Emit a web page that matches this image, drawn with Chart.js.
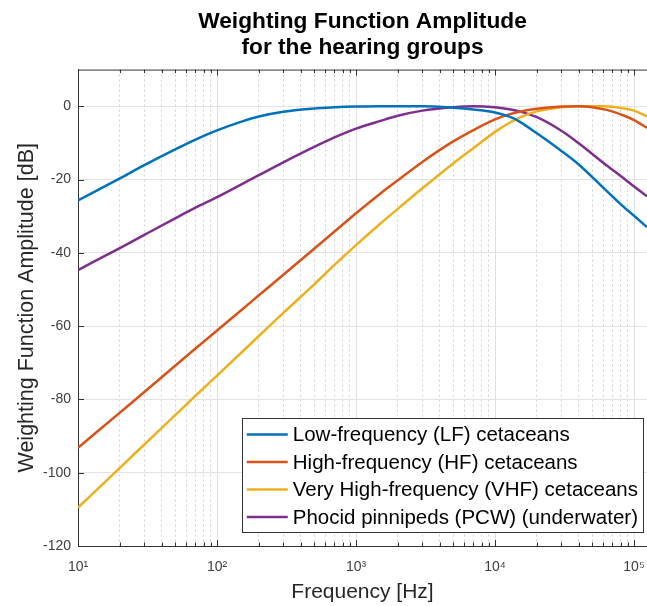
<!DOCTYPE html>
<html>
<head>
<meta charset="utf-8">
<script src="https://cdn.jsdelivr.net/npm/chart.js@4.4.1/dist/chart.umd.min.js"></script>
<style>
  html, body { margin: 0; padding: 0; background: #fff; }
  #wrap { width: 647px; height: 606px; }
</style>
</head>
<body>
<div id="wrap"><canvas id="chart"></canvas></div>
<script>
/* valores */
const freqHz = [10, 20, 30, 50, 70, 100, 150, 200, 300, 500, 700, 1000, 1500, 2000, 3000, 5000, 7000, 10000, 13000, 15000, 20000, 30000, 40000, 60000, 85000, 100000, 124000];
const lfValues = [-25.7, -19.7, -16.1, -11.8, -9.1, -6.6, -4.2, -2.8, -1.5, -0.6, -0.3, -0.1, 0, 0, 0, -0.4, -0.9, -1.7, -3.0, -4.2, -7.4, -12.2, -15.9, -22.2, -27.6, -29.9, -33.0];
const hfValues = [-93.2, -83.6, -78.0, -70.8, -66.1, -61.2, -55.6, -51.6, -46.0, -38.9, -34.2, -29.2, -23.8, -20.2, -15.2, -9.6, -6.5, -3.6, -2.1, -1.5, -0.7, -0.1, 0, -0.8, -2.6, -3.8, -5.9];
const vhfValues = [-109.5, -98.7, -92.3, -84.3, -79.0, -73.5, -67.2, -62.7, -56.4, -48.6, -43.3, -37.9, -32.0, -28.0, -22.4, -15.6, -11.4, -7.0, -4.3, -3.1, -1.4, -0.3, 0, 0, -0.6, -1.2, -2.8];
const pcwValues = [-44.7, -38.7, -35.1, -30.6, -27.7, -24.8, -21.3, -18.8, -15.3, -11.1, -8.5, -6.1, -4.0, -2.6, -1.2, -0.3, 0, -0.3, -0.9, -1.4, -3.0, -6.7, -10.1, -15.4, -19.8, -21.9, -24.6];

const seriesNames = [
    'Low-frequency (LF) cetaceans',
    'High-frequency (HF) cetaceans',
    'Very High-frequency (VHF) cetaceans',
    'Phocid pinnipeds (PCW) (underwater)'
];
const seriesColors = ['#0072BD', '#D95319', '#EDB120', '#7E2F8E'];

/* ticks */
const xTickValues = [10, 20, 30, 40, 50, 60, 70, 80, 90,
    100, 200, 300, 400, 500, 600, 700, 800, 900,
    1000, 2000, 3000, 4000, 5000, 6000, 7000, 8000, 9000,
    10000, 20000, 30000, 40000, 50000, 60000, 70000, 80000, 90000,
    100000];
const xDecadeLabels = ['10¹', '10²', '10³', '10⁴', '10⁵'];
const yTickValues = [-120, -100, -80, -60, -40, -20, 0];

const FONT = '"Liberation Sans", Arial, Helvetica, sans-serif';
Chart.defaults.font.family = FONT;

function esDecada(v) {
    const l = Math.log10(v);
    return Math.abs(l - Math.round(l)) < 1e-9;
}

function puntos(valores) {
    return freqHz.map((f, i) => ({ x: f, y: valores[i] }));
}

/* ejes estilo matlab: borde de arriba, ticks hacia adentro y leyenda en caja */
const matlabPlugin = {
    id: 'matlab',
    beforeDatasetsDraw(chart) {
        const { ctx, chartArea, scales } = chart;
        ctx.save();
        ctx.strokeStyle = '#333';
        ctx.lineWidth = 1;
        ctx.beginPath();
        ctx.moveTo(chartArea.left, chartArea.top + 0.5);
        ctx.lineTo(chartArea.right, chartArea.top + 0.5);
        xTickValues.forEach(v => {
            const x = Math.round(scales.x.getPixelForValue(v)) + 0.5;
            const len = esDecada(v) ? 6 : 3.5;
            ctx.moveTo(x, chartArea.top);
            ctx.lineTo(x, chartArea.top + len);
            ctx.moveTo(x, chartArea.bottom);
            ctx.lineTo(x, chartArea.bottom - len);
        });
        yTickValues.forEach(v => {
            const y = Math.round(scales.y.getPixelForValue(v)) + 0.5;
            ctx.moveTo(chartArea.left, y);
            ctx.lineTo(chartArea.left + 6, y);
        });
        ctx.stroke();
        ctx.restore();
    },
    afterDatasetsDraw(chart) {
        const { ctx, chartArea } = chart;
        const sets = chart.data.datasets;
        ctx.save();
        ctx.font = '20.5px ' + FONT;
        let maxW = 0;
        sets.forEach(ds => { maxW = Math.max(maxW, ctx.measureText(ds.label).width); });
        const rowH = 27.5;
        const w = 5 + 41 + 5 + maxW + 5;
        const h = sets.length * rowH + 4;
        const right = chartArea.right - 4;
        const bottom = chartArea.bottom - 14;
        const left = right - w;
        const top = bottom - h;
        ctx.fillStyle = '#fff';
        ctx.fillRect(left, top, w, h);
        ctx.strokeStyle = '#333';
        ctx.lineWidth = 1;
        ctx.strokeRect(Math.round(left) + 0.5, Math.round(top) + 0.5, Math.round(w), Math.round(h));
        ctx.textBaseline = 'middle';
        ctx.textAlign = 'left';
        sets.forEach((ds, i) => {
            const y = top + 16.5 + i * rowH;
            ctx.strokeStyle = ds.borderColor;
            ctx.lineWidth = ds.borderWidth;
            ctx.beginPath();
            ctx.moveTo(left + 5, y);
            ctx.lineTo(left + 46, y);
            ctx.stroke();
            ctx.fillStyle = '#000';
            ctx.fillText(ds.label, left + 51, y + 1);
        });
        ctx.restore();
    }
};

const datasets = [lfValues, hfValues, vhfValues, pcwValues].map((vals, i) => ({
    label: seriesNames[i],
    data: puntos(vals),
    borderColor: seriesColors[i],
    backgroundColor: seriesColors[i],
    borderWidth: 2.5,
    pointRadius: 0,
    fill: false,
    cubicInterpolationMode: 'monotone'
}));

const chart = new Chart(document.getElementById('chart'), {
    type: 'line',
    data: { datasets: datasets },
    plugins: [matlabPlugin],
    options: {
        responsive: true,
        maintainAspectRatio: false,
        animation: false,
        layout: { padding: 0 },
        plugins: {
            legend: { display: false },
            tooltip: { enabled: false },
            title: {
                display: true,
                fullSize: false,
                text: ['Weighting Function Amplitude', 'for the hearing groups'],
                color: '#000',
                font: { size: 22.7, weight: 'bold', lineHeight: 1.18 },
                padding: { top: 8, bottom: 8 }
            }
        },
        scales: {
            x: {
                type: 'logarithmic',
                min: 10,
                max: 124000,
                afterBuildTicks: (s) => { s.ticks = xTickValues.map(v => ({ value: v })); },
                afterFit: (s) => { s.height = 60; s.paddingLeft = 0; s.paddingRight = 0; },
                ticks: {
                    autoSkip: false,
                    maxRotation: 0,
                    padding: 13,
                    color: '#404040',
                    font: { size: 14 },
                    callback: (v) => esDecada(v) ? xDecadeLabels[Math.round(Math.log10(v)) - 1] : ''
                },
                grid: {
                    drawTicks: false,
                    color: (c) => (c.tick && esDecada(c.tick.value)) ? '#e0e0e0' : '#d2d2d2'
                },
                border: {
                    color: '#333',
                    dash: (c) => (c.tick && !esDecada(c.tick.value)) ? [2, 3] : []
                },
                title: {
                    display: true,
                    text: 'Frequency [Hz]',
                    color: '#262626',
                    font: { size: 21 },
                    padding: { top: 0, bottom: 1.4 }
                }
            },
            y: {
                type: 'linear',
                min: -120,
                max: 10,
                afterBuildTicks: (s) => { s.ticks = yTickValues.map(v => ({ value: v })); },
                afterFit: (s) => { s.width = 78; },
                ticks: {
                    padding: 7,
                    color: '#404040',
                    font: { size: 14 }
                },
                grid: {
                    drawTicks: false,
                    color: '#e3e3e3'
                },
                border: { color: '#333' },
                title: {
                    display: true,
                    text: 'Weighting Function Amplitude [dB]',
                    color: '#262626',
                    font: { size: 21.5 },
                    padding: { top: 14, bottom: 0 }
                }
            }
        }
    }
});
</script>
</body>
</html>
